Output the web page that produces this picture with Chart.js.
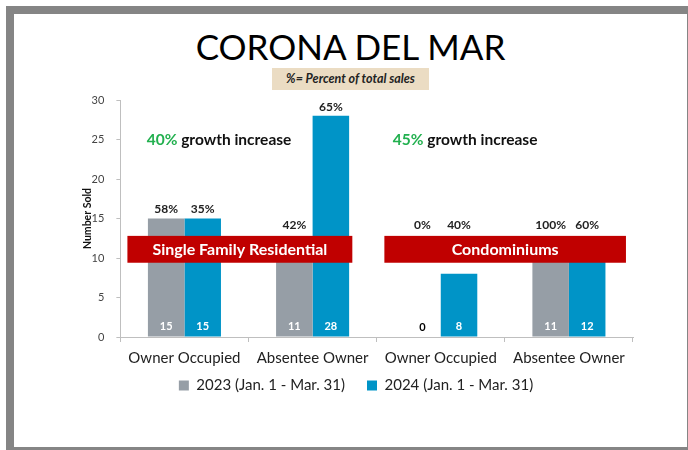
<!DOCTYPE html>
<html>
<head>
<meta charset="utf-8">
<script src="https://cdn.jsdelivr.net/npm/chart.js@4.4.1/dist/chart.umd.min.js"></script>
<style>
  html, body { margin: 0; padding: 0; background: #fff; }
  #frame { position: absolute; left: 6px; top: 6px; width: 690px; height: 450px; background: #858585; }
  #panel { position: absolute; left: 14px; top: 14px; width: 673px; height: 433px; background: #fff; }
  #title { position: absolute; left: 0; top: 11px; width: 673px; text-align: center; font-family: Lato, sans-serif; font-size: 35px; color: #000; }
  #note { position: absolute; left: 258px; top: 54px; width: 157px; height: 22px; line-height: 22px; background: #ebdcc3; text-align: center; font-family: Lato, sans-serif; font-size: 12.5px; font-weight: bold; font-style: italic; color: #222; }
  #wrap { position: absolute; left: 0; top: 0; width: 673px; height: 433px; }
</style>
</head>
<body>
<div id="frame"></div>
<div id="panel">
  <div id="title">CORONA DEL MAR</div>
  <div id="note">%= Percent of total sales</div>
  <div id="wrap"><canvas id="chart"></canvas></div>
</div>
<script>
var categories = ['Owner Occupied', 'Absentee Owner', 'Owner Occupied', 'Absentee Owner'];
var seriesNames = ['2023 (Jan. 1 - Mar. 31)', '2024 (Jan. 1 - Mar. 31)'];
var sold2023 = [15, 11, 0, 11];
var sold2024 = [15, 28, 8, 12];
var pct2023 = ['58%', '42%', '0%', '100%'];
var pct2024 = ['35%', '65%', '40%', '60%'];
var yTicks = [0, 5, 10, 15, 20, 25, 30];

// banners: label, first/last category edge (category units), value range
var bannerLabels = ['Single Family Residential', 'Condominiums'];
var bannerFrom = [-0.445, 1.56];
var bannerTo = [1.31, 3.445];
var bannerLow = 9.4;
var bannerHigh = 12.8;

var growthPct = ['40%', '45%'];
var growthAt = [0.27, 2.19];
var growthValue = 25;

var colors = {
    grey: '#969ea6',
    blue: '#0094c7',
    red: '#c00000',
    green: '#22b04f',
    text: '#222222'
};
var font = 'Lato, sans-serif';

var labelPlugin = {
    id: 'cdmLabels',
    afterLayout: function (chart) {
        // pull the legend up closer to the category labels
        chart.legend.top -= 18;
        chart.legend.bottom -= 18;
    },
    afterDatasetsDraw: function (chart) {
        var ctx = chart.ctx;
        var x = chart.scales.x;
        var y = chart.scales.y;
        var bTop = y.getPixelForValue(bannerHigh);
        var bBot = y.getPixelForValue(bannerLow);
        ctx.save();

        // red banners over the bars
        bannerLabels.forEach(function (name, i) {
            var x1 = x.getPixelForValue(bannerFrom[i]);
            var x2 = x.getPixelForValue(bannerTo[i]);
            ctx.fillStyle = colors.red;
            ctx.fillRect(x1, bTop, x2 - x1, bBot - bTop);
            ctx.fillStyle = '#fff';
            ctx.font = 'bold 16px ' + font;
            ctx.textAlign = 'center';
            ctx.textBaseline = 'middle';
            ctx.fillText(name, (x1 + x2) / 2, (bTop + bBot) / 2 + 1);
        });

        // counts and percentages
        var pcts = [pct2023, pct2024];
        chart.data.datasets.forEach(function (ds, di) {
            chart.getDatasetMeta(di).data.forEach(function (bar, i) {
                var v = ds.data[i];
                ctx.textAlign = 'center';
                ctx.textBaseline = 'middle';
                ctx.font = 'bold 11px ' + font;
                ctx.fillStyle = v === 0 ? '#000' : '#fff';
                ctx.fillText(String(v), bar.x, bar.base - 10);

                var top = bar.y;
                if (top > bTop) top = bTop - 2;
                ctx.font = 'bold 12px ' + font;
                ctx.fillStyle = colors.text;
                ctx.fillText(pcts[di][i], bar.x, top - 9);
            });
        });

        // growth notes
        growthPct.forEach(function (p, i) {
            var cx = x.getPixelForValue(growthAt[i]);
            var cy = y.getPixelForValue(growthValue);
            ctx.font = 'bold 15.5px ' + font;
            var rest = ' growth increase';
            var w1 = ctx.measureText(p).width;
            var w2 = ctx.measureText(rest).width;
            var sx = cx - (w1 + w2) / 2;
            ctx.textAlign = 'left';
            ctx.textBaseline = 'middle';
            ctx.fillStyle = colors.green;
            ctx.fillText(p, sx, cy);
            ctx.fillStyle = '#111';
            ctx.fillText(rest, sx + w1, cy);
        });
        ctx.restore();
    }
};

new Chart(document.getElementById('chart'), {
    type: 'bar',
    data: {
        labels: categories,
        datasets: [
            { label: seriesNames[0], data: sold2023, backgroundColor: colors.grey },
            { label: seriesNames[1], data: sold2024, backgroundColor: colors.blue }
        ]
    },
    options: {
        responsive: true,
        maintainAspectRatio: false,
        animation: false,
        categoryPercentage: 0.57,
        barPercentage: 1.0,
        layout: { padding: { top: 86, right: 54, bottom: 26, left: 65 } },
        plugins: {
            tooltip: { enabled: false },
            legend: {
                position: 'bottom',
                labels: {
                    boxWidth: 10,
                    boxHeight: 10,
                    padding: 22,
                    color: colors.text,
                    font: { family: font, size: 15 }
                }
            }
        },
        scales: {
            x: {
                grid: { offset: true, drawOnChartArea: false, tickLength: 5, color: '#bfbfbf' },
                border: { color: '#bfbfbf' },
                ticks: { color: colors.text, font: { family: font, size: 15 }, padding: 7 }
            },
            y: {
                min: 0,
                max: 30,
                afterBuildTicks: function (axis) {
                    axis.ticks = yTicks.map(function (v) { return { value: v }; });
                },
                afterFit: function (axis) { axis.width -= 16; },
                grid: { drawOnChartArea: false, tickLength: 4, color: '#bfbfbf' },
                border: { color: '#bfbfbf' },
                title: { display: true, text: 'Number Sold', color: '#111', padding: 2, font: { family: font, size: 10.5, weight: 'bold' } },
                ticks: { color: '#444', font: { family: font, size: 11 }, padding: 12 }
            }
        }
    },
    plugins: [labelPlugin]
});
</script>
</body>
</html>
